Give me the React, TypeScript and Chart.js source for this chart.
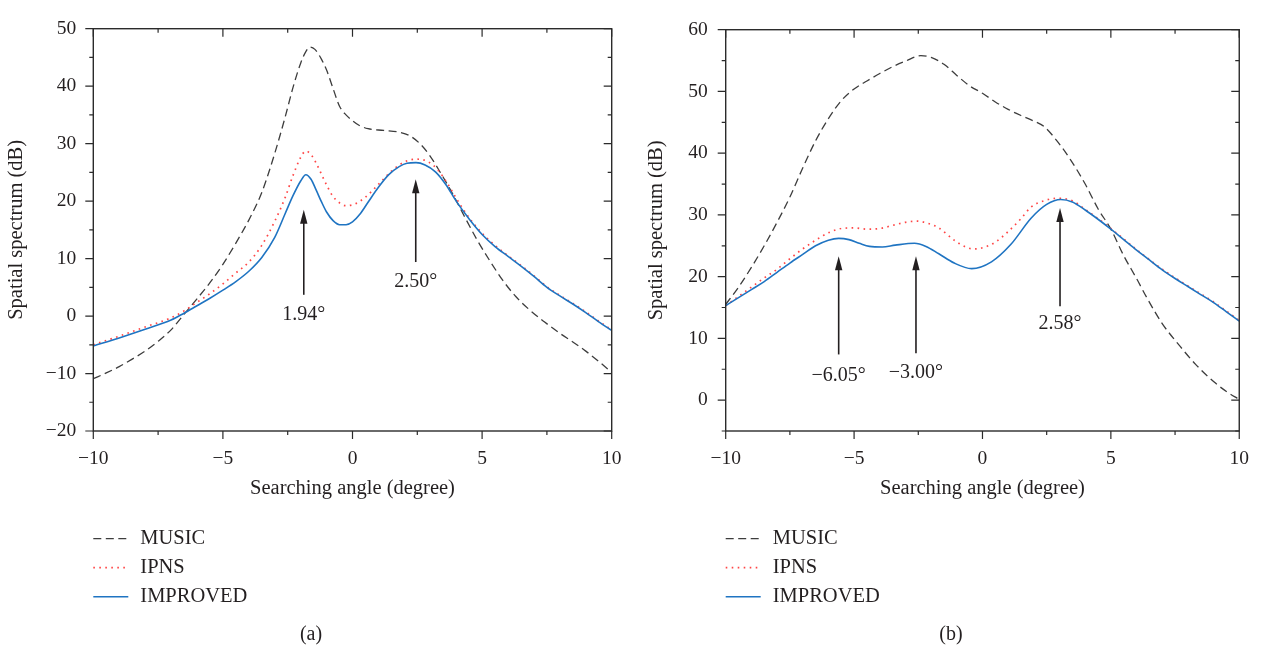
import React, { useEffect, useRef } from 'react';
import { Chart, registerables } from 'chart.js';

Chart.register(...registerables);

const SERIF = '"Liberation Serif", "DejaVu Serif", "Times New Roman", serif';
const INK = '#231f20';

// ---------- series meta ----------
const seriesNames = ['MUSIC', 'IPNS', 'IMPROVED'];
const seriesColors = ['#3d3d3d', '#ff4545', '#1f74c2'];
const seriesDash = [[8, 4.5], [1.6, 4.4], []];
const seriesWidth = [1.3, 1.7, 1.6];
const seriesOrder = [2, 1, 0];

// ---------- panel (a) ----------
const musicA_x = [-10, -9.5, -9, -8.5, -8, -7.5, -7, -6.5, -6, -5.5, -5, -4.5, -4, -3.5, -3, -2.6, -2.3, -2, -1.8, -1.65, -1.45, -1.2, -1, -0.75, -0.5, -0.25, 0, 0.25, 0.6, 1.2, 1.8, 2.2, 2.6, 3, 3.4, 3.8, 4.3, 4.8, 5.3, 5.8, 6.3, 6.8, 7.4, 8, 8.5, 9, 9.5, 10];
const musicA_y = [-10.9, -9.9, -8.8, -7.5, -6.1, -4.4, -2.4, 0.3, 3.0, 5.8, 9.0, 12.7, 16.7, 21.5, 28.3, 34.6, 39.7, 44.0, 46.0, 46.8, 46.4, 44.7, 42.8, 39.6, 36.5, 35.0, 34.0, 33.2, 32.6, 32.3, 32.0, 31.4, 30.0, 27.8, 24.9, 21.8, 17.5, 13.3, 9.6, 6.2, 3.4, 1.2, -1.0, -3.0, -4.5, -6.1, -7.9, -9.8];

const ipnsA_x = [-10, -9, -8, -7, -6.5, -6, -5.5, -5, -4.5, -4, -3.5, -3, -2.6, -2.3, -2, -1.8, -1.6, -1.4, -1.2, -1, -0.75, -0.5, -0.25, 0.1, 0.5, 1, 1.5, 2, 2.45, 2.9, 3.3, 3.7, 4, 4.5, 5, 5.5, 6, 6.5, 7, 7.5, 8, 8.5, 9, 9.5, 10];
const ipnsA_y = [-5.0, -3.5, -1.9, -0.3, 0.9, 2.4, 3.9, 5.6, 7.5, 9.4, 12.3, 16.5, 20.6, 24.4, 27.6, 28.7, 28.1, 26.6, 24.7, 22.8, 20.8, 19.7, 19.2, 19.5, 20.7, 22.9, 25.2, 26.8, 27.3, 26.9, 25.4, 22.8, 20.5, 17.1, 14.4, 12.3, 10.5, 8.8, 7.0, 5.1, 3.6, 2.2, 0.7, -0.9, -2.4];

const improvedA_x = [-10, -9, -8, -7, -6.5, -6, -5.5, -5, -4.5, -4, -3.5, -3, -2.6, -2.3, -2, -1.8, -1.6, -1.4, -1.2, -1, -0.75, -0.5, -0.25, 0, 0.3, 0.6, 1, 1.4, 1.8, 2.1, 2.45, 2.8, 3.2, 3.6, 4, 4.5, 5, 5.5, 6, 6.5, 7, 7.5, 8, 8.5, 9, 9.5, 10];
const improvedA_y = [-5.2, -3.8, -2.3, -0.7, 0.5, 1.8, 3.1, 4.5, 6.0, 7.8, 10.2, 13.7, 17.8, 20.9, 23.5, 24.6, 23.8, 21.9, 19.9, 18.1, 16.6, 15.9, 15.9, 16.4, 17.8, 19.8, 22.4, 24.6, 26.0, 26.6, 26.7, 26.3, 25.1, 22.9, 20.0, 16.9, 14.2, 12.1, 10.4, 8.7, 6.9, 5.0, 3.5, 2.1, 0.6, -1.0, -2.5];

const arrowsA_x = [-1.88, 2.44];
const arrowsA_tip = [18.5, 23.8];
const arrowsA_base = [3.7, 9.4];
const arrowsA_labelY = [0.3, 5.9];
const arrowsA_label = ['1.94°', '2.50°'];

// ---------- panel (b) ----------
const musicB_x = [-10, -9.5, -9, -8.5, -8, -7.5, -7, -6.5, -6, -5.5, -5, -4.5, -4, -3.5, -3, -2.4, -2, -1.5, -1, -0.5, 0, 0.5, 1, 1.5, 2, 2.4, 2.9, 3.45, 4, 4.5, 5, 5.5, 6, 6.4, 7, 7.7, 8.3, 9, 9.5, 10];
const musicB_y = [15.5, 18.3, 21.5, 25.0, 28.8, 32.9, 37.6, 42.0, 45.6, 48.5, 50.4, 51.7, 52.9, 54.0, 54.9, 55.8, 55.5, 54.4, 52.6, 50.9, 49.7, 48.3, 47.1, 46.1, 45.2, 44.3, 42.0, 38.8, 35.0, 31.0, 27.7, 23.4, 19.7, 16.6, 12.4, 8.7, 5.8, 3.0, 1.4, 0.1];

const ipnsB_x = [-10, -9.5, -9, -8.5, -8, -7.5, -7, -6.5, -6, -5.5, -5, -4.5, -4, -3.5, -3, -2.55, -2.1, -1.7, -1.1, -0.6, -0.29, 0.1, 0.5, 1, 1.5, 1.9, 2.4, 2.93, 3.5, 4, 4.5, 5, 5.5, 6, 7, 8, 9, 10];
const ipnsB_y = [15.3, 16.8, 18.3, 19.8, 21.2, 22.9, 24.5, 25.9, 27.1, 27.8, 27.9, 27.7, 27.8, 28.3, 28.8, 29.0, 28.6, 27.9, 25.9, 24.7, 24.5, 24.8, 25.6, 27.3, 29.4, 31.3, 32.3, 32.7, 32.3, 30.9, 29.4, 27.8, 26.1, 24.4, 21.2, 18.5, 15.9, 12.9];

const improvedB_x = [-10, -9.5, -9, -8.5, -8, -7.5, -7, -6.5, -6, -5.6, -5.2, -4.8, -4.4, -3.9, -3.4, -2.65, -2.2, -1.7, -1.1, -0.42, 0.35, 1.1, 1.9, 2.5, 3.05, 3.5, 4, 4.5, 5, 5.5, 6, 6.5, 7, 7.5, 8, 8.5, 9, 9.5, 10];
const improvedB_y = [15.3, 16.6, 17.9, 19.2, 20.7, 22.2, 23.6, 25.0, 25.9, 26.2, 26.0, 25.4, 24.9, 24.8, 25.1, 25.4, 24.9, 23.7, 22.2, 21.3, 22.4, 25.2, 29.5, 31.7, 32.5, 32.1, 30.8, 29.3, 27.7, 26.0, 24.3, 22.7, 21.1, 19.7, 18.4, 17.1, 15.8, 14.3, 12.8];

const arrowsB_x = [-5.6, -2.59, 3.02];
const arrowsB_tip = [23.3, 23.3, 31.1];
const arrowsB_base = [7.4, 7.6, 15.2];
const arrowsB_labelY = [4.0, 4.5, 12.3];
const arrowsB_label = ['\u22126.05°', '\u22123.00°', '2.58°'];

// ---------- axes ----------
const xMin = -10;
const xMax = 10;
const xStep = 2.5;
const xLabelEvery = 5;
const yStep = 5;
const yLabelEvery = 10;
const xTitle = 'Searching angle (degree)';
const yTitle = 'Spatial spectrum (dB)';

type Panel = {
  xs: number[][];
  ys: number[][];
  yMin: number;
  yMax: number;
  plotLeft: number;
  padRight: number;
  yTickPad: number;
  arrowX: number[];
  arrowTip: number[];
  arrowBase: number[];
  arrowLabelY: number[];
  arrowLabel: string[];
  caption: string;
};

const panelA: Panel = {
  xs: [musicA_x, ipnsA_x, improvedA_x],
  ys: [musicA_y, ipnsA_y, improvedA_y],
  yMin: -20,
  yMax: 50,
  plotLeft: 93.3,
  padRight: 28.3,
  yTickPad: 17,
  arrowX: arrowsA_x,
  arrowTip: arrowsA_tip,
  arrowBase: arrowsA_base,
  arrowLabelY: arrowsA_labelY,
  arrowLabel: arrowsA_label,
  caption: '(a)',
};

const panelB: Panel = {
  xs: [musicB_x, ipnsB_x, improvedB_x],
  ys: [musicB_y, ipnsB_y, improvedB_y],
  yMin: -5,
  yMax: 60,
  plotLeft: 85.7,
  padRight: 22.3,
  yTickPad: 18,
  arrowX: arrowsB_x,
  arrowTip: arrowsB_tip,
  arrowBase: arrowsB_base,
  arrowLabelY: arrowsB_labelY,
  arrowLabel: arrowsB_label,
  caption: '(b)',
};

const fmt = (v: number) => (v < 0 ? '\u2212' + Math.abs(v) : String(v));
const isMult = (v: number, m: number) => Math.abs(v / m - Math.round(v / m)) < 1e-9;

function makeExtras(panel: Panel) {
  return {
    id: 'extras',
    afterDraw(chart: any) {
      const { ctx, chartArea } = chart;
      const { left, right, top, bottom } = chartArea;
      const xs = chart.scales.x;
      const ys = chart.scales.y;
      ctx.save();
      ctx.setLineDash([]);
      // frame
      ctx.strokeStyle = '#2b2b2b';
      ctx.lineWidth = 1.4;
      ctx.strokeRect(left, top, right - left, bottom - top);
      // tick marks: outward on left/bottom, inward on top/right
      ctx.lineWidth = 1.2;
      ctx.beginPath();
      xs.ticks.forEach((t: any) => {
        const p = xs.getPixelForValue(t.value);
        const len = isMult(t.value, xLabelEvery) ? 8 : 4;
        ctx.moveTo(p, bottom);
        ctx.lineTo(p, bottom + len);
        ctx.moveTo(p, top);
        ctx.lineTo(p, top + len);
      });
      ys.ticks.forEach((t: any) => {
        const p = ys.getPixelForValue(t.value);
        const len = isMult(t.value, yLabelEvery) ? 8 : 4;
        ctx.moveTo(left - len, p);
        ctx.lineTo(left, p);
        ctx.moveTo(right - len, p);
        ctx.lineTo(right, p);
      });
      ctx.stroke();

      // arrows + labels
      ctx.strokeStyle = INK;
      ctx.fillStyle = INK;
      panel.arrowX.forEach((ax, i) => {
        const px = xs.getPixelForValue(ax);
        const tip = ys.getPixelForValue(panel.arrowTip[i]);
        const base = ys.getPixelForValue(panel.arrowBase[i]);
        ctx.lineWidth = 1.6;
        ctx.beginPath();
        ctx.moveTo(px, base);
        ctx.lineTo(px, tip + 12);
        ctx.stroke();
        ctx.beginPath();
        ctx.moveTo(px, tip);
        ctx.lineTo(px - 3.7, tip + 14);
        ctx.lineTo(px + 3.7, tip + 14);
        ctx.closePath();
        ctx.fill();
        ctx.font = `20px ${SERIF}`;
        ctx.textAlign = 'center';
        ctx.textBaseline = 'middle';
        ctx.fillText(panel.arrowLabel[i], px, ys.getPixelForValue(panel.arrowLabelY[i]));
      });

      // legend (vertical list below the plot)
      const dsets = chart.data.datasets;
      dsets.forEach((d: any, i: number) => {
        const y = 538.7 + i * 29;
        ctx.strokeStyle = d.borderColor;
        ctx.lineWidth = d.borderWidth;
        ctx.setLineDash(d.borderDash || []);
        ctx.beginPath();
        ctx.moveTo(left, y);
        ctx.lineTo(left + 35, y);
        ctx.stroke();
        ctx.setLineDash([]);
        ctx.fillStyle = INK;
        ctx.textAlign = 'left';
        ctx.textBaseline = 'middle';
        ctx.font = `20.5px ${SERIF}`;
        ctx.fillText(d.label, left + 47, y);
      });

      // caption
      ctx.fillStyle = INK;
      ctx.textAlign = 'center';
      ctx.textBaseline = 'middle';
      ctx.font = `20px ${SERIF}`;
      ctx.fillText(panel.caption, 311, 635);
      ctx.restore();
    },
  };
}

function buildConfig(panel: Panel): any {
  const datasets = seriesNames.map((name, i) => ({
    label: name,
    data: panel.xs[i].map((x, k) => ({ x, y: panel.ys[i][k] })),
    borderColor: seriesColors[i],
    backgroundColor: seriesColors[i],
    borderDash: seriesDash[i],
    borderWidth: seriesWidth[i],
    pointRadius: 0,
    fill: false,
    cubicInterpolationMode: 'monotone',
    order: seriesOrder[i],
  }));
  return {
    type: 'line',
    data: { datasets },
    options: {
      animation: false,
      responsive: false,
      devicePixelRatio: 1,
      layout: { padding: { left: 0, top: 14, right: panel.padRight, bottom: 149 } },
      plugins: { legend: { display: false }, tooltip: { enabled: false } },
      scales: {
        x: {
          type: 'linear',
          min: xMin,
          max: xMax,
          ticks: {
            stepSize: xStep,
            autoSkip: false,
            maxRotation: 0,
            padding: 16,
            color: INK,
            font: { family: SERIF, size: 19.5 },
            callback: (v: number) => (isMult(v, xLabelEvery) ? fmt(v) : ''),
          },
          grid: { display: false, drawTicks: false },
          border: { display: false },
          title: {
            display: true,
            text: xTitle,
            color: INK,
            font: { family: SERIF, size: 20.5 },
            padding: 0,
          },
          afterFit: (s: any) => {
            s.height = 70;
          },
        },
        y: {
          type: 'linear',
          min: panel.yMin,
          max: panel.yMax,
          ticks: {
            stepSize: yStep,
            autoSkip: false,
            padding: panel.yTickPad,
            color: INK,
            font: { family: SERIF, size: 19.5 },
            callback: (v: number) => (isMult(v, yLabelEvery) ? fmt(v) : ''),
          },
          grid: { display: false, drawTicks: false },
          border: { display: false },
          title: {
            display: true,
            text: yTitle,
            color: INK,
            font: { family: SERIF, size: 20.5 },
            padding: { top: 4, bottom: 0 },
          },
          afterFit: (s: any) => {
            s.width = panel.plotLeft;
          },
        },
      },
    },
    plugins: [makeExtras(panel)],
  };
}

function ChartPanel({ panel, left, width }: { panel: Panel; left: number; width: number }) {
  const ref = useRef<HTMLCanvasElement>(null);
  useEffect(() => {
    if (!ref.current) return;
    const chart = new Chart(ref.current, buildConfig(panel));
    return () => chart.destroy();
  }, [panel]);
  return (
    <canvas
      ref={ref}
      width={width}
      height={650}
      style={{ position: 'absolute', left, top: 0, width, height: 650, display: 'block' }}
    />
  );
}

export default function App() {
  return (
    <div style={{ position: 'absolute', left: 0, top: 0, width: 1265, height: 650, background: '#fff', overflow: 'hidden' }}>
      <ChartPanel panel={panelA} left={0} width={640} />
      <ChartPanel panel={panelB} left={640} width={625} />
    </div>
  );
}
